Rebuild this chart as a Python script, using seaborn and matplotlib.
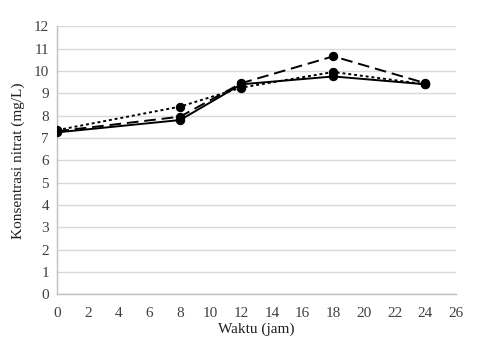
import matplotlib
matplotlib.use("Agg")
import matplotlib.pyplot as plt
import seaborn as sns
import pandas as pd

waktu = [0, 8, 12, 18, 24]
solid_vals = [7.25, 7.8, 9.4, 9.75, 9.4]
dashed_vals = [7.3, 7.95, 9.45, 10.65, 9.45]
dotted_vals = [7.35, 8.4, 9.25, 9.95, 9.4]
x_ticks = list(range(0, 27, 2))
y_ticks = list(range(0, 13))

sns.set_theme(style="white")
plt.rcParams['font.family'] = ['Liberation Serif', 'DejaVu Serif']

fig = plt.figure(figsize=(4.78, 3.44), dpi=100)
ax = fig.add_axes([0.12, 0.144, 0.834, 0.78])

series = [
    (solid_vals, '-'),
    (dashed_vals, (0, (6, 3))),
    (dotted_vals, (0, (1.5, 1.5))),
]
for vals, ls in series:
    df = pd.DataFrame({'x': waktu, 'y': vals})
    sns.lineplot(data=df, x='x', y='y', ax=ax, color='black', linewidth=1.4,
                 linestyle=ls, marker='o', markersize=6,
                 markeredgecolor='black', markerfacecolor='black', zorder=3)

ax.set_xlim(0, 26)
ax.set_ylim(0, 12)
ax.set_xticks(x_ticks)
ax.set_yticks(y_ticks)
ax.yaxis.grid(True, color='#d9d9d9', linewidth=1.0)
ax.xaxis.grid(False)
for s in ['top', 'right']:
    ax.spines[s].set_visible(False)
for s in ['left', 'bottom']:
    ax.spines[s].set_color('#bfbfbf')
    ax.spines[s].set_linewidth(1.0)
ax.tick_params(axis='both', labelsize=11, colors='#404040', length=0)
ax.tick_params(axis='x', pad=9)
ax.tick_params(axis='y', pad=6)
ax.set_xlabel('Waktu (jam)', fontsize=11, color='#202020', labelpad=2)
ax.set_ylabel('Konsentrasi nitrat (mg/L)', fontsize=11, color='#202020', labelpad=6)

fig.savefig('out.png', dpi=100)
